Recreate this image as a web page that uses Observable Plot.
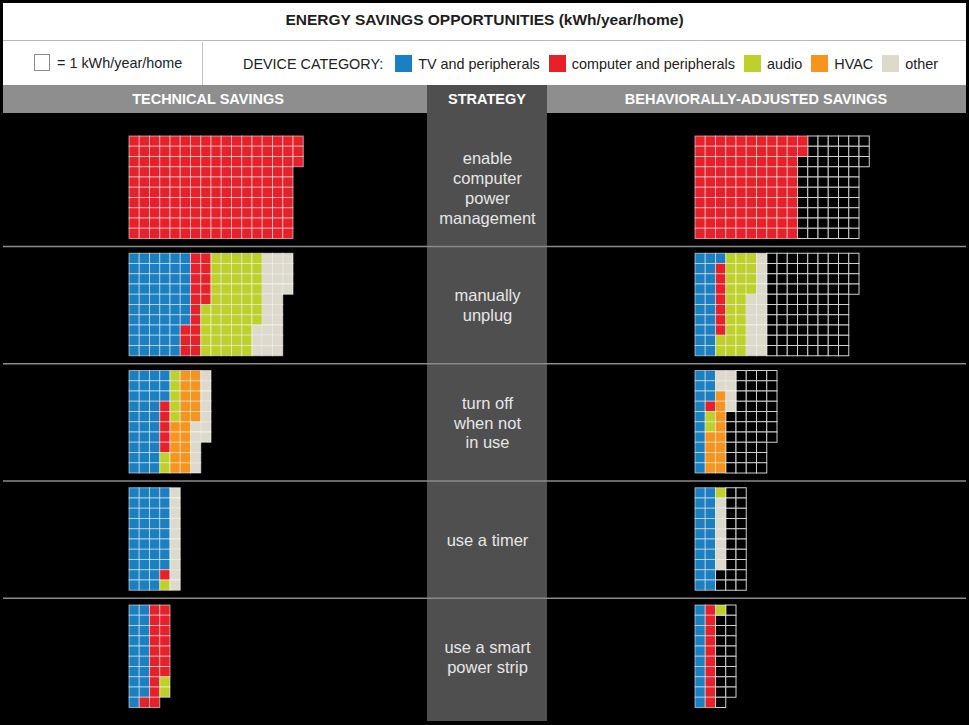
<!DOCTYPE html>
<html>
<head>
<meta charset="utf-8">
<script src="https://cdn.jsdelivr.net/npm/d3@7"></script>
<script src="https://cdn.jsdelivr.net/npm/@observablehq/plot@0.6"></script>
<style>
  html, body { margin: 0; padding: 0; background: #000; }
  #frame { position: relative; width: 969px; height: 725px; background: #000; overflow: hidden;
           font-family: "Liberation Sans", Arial, Helvetica, sans-serif; }
  #head { position: absolute; left: 3px; top: 3px; width: 963px; height: 82px; background: #fff; }
  #title { position: absolute; left: 0; top: 0; width: 100%; height: 38px; line-height: 34px; text-align: center;
           font-weight: bold; font-size: 15.5px; color: #1e1e1e; border-bottom: 1.5px solid #b8b8b8; box-sizing: border-box; }
  #unit { position: absolute; left: 0; top: 39px; width: 199px; height: 43px; border-right: 1.5px solid #c4c4c4; }
  #unitbox { position: absolute; left: 31px; top: 12px; width: 14px; height: 15px; border: 1.5px solid #8c8c8c; background: #fff; }
  #unittext { position: absolute; left: 54px; top: 0; line-height: 43px; font-size: 14.4px; color: #222; white-space: nowrap; }
  #legend { position: absolute; left: 240px; top: 39px; height: 43px; display: flex; align-items: center;
            font-size: 14.4px; color: #222; white-space: nowrap; }
  #legend .lab { margin-right: 8px; }
  #legend .sw { width: 17px; height: 17px; margin-right: 6px; margin-left: 4px; }
  #legend .item { display: flex; align-items: center; margin-right: 5px; }
  #band { position: absolute; left: 3px; top: 85px; width: 963px; height: 28px; background: #8e8e8e; }
  .bandtext { position: absolute; top: 85px; height: 28px; line-height: 28px; color: #fff; font-weight: bold;
              font-size: 14.5px; white-space: nowrap; transform: translateX(-50%); }
  #strategyband { position: absolute; left: 427px; top: 85px; width: 120px; height: 636px; background: #4f4f4f; }
  #chart { position: absolute; left: 0; top: 113px; }
</style>
</head>
<body>
<div id="frame">
  <div id="head">
    <div id="title">ENERGY SAVINGS OPPORTUNITIES (kWh/year/home)</div>
    <div id="unit"><div id="unitbox"></div><div id="unittext">= 1 kWh/year/home</div></div>
    <div id="legend"><span class="lab">DEVICE CATEGORY:</span></div>
  </div>
  <div id="band"></div>
  <div id="strategyband"></div>
  <div class="bandtext" style="left:208px">TECHNICAL SAVINGS</div>
  <div class="bandtext" style="left:487px">STRATEGY</div>
  <div class="bandtext" style="left:756px">BEHAVIORALLY-ADJUSTED SAVINGS</div>
  <div id="chart"></div>
</div>
<script>
// ---------------- data ----------------
const categories = ["TV and peripherals", "computer and peripherals", "audio", "HVAC", "other"];
const categoryColors = ["#1b80c2", "#e8202a", "#bdd12a", "#f7941e", "#dddacc"];

const strategies = [
  "enable\ncomputer\npower\nmanagement",
  "manually\nunplug",
  "turn off\nwhen not\nin use",
  "use a timer",
  "use a smart\npower strip"
];

// runs of [category, kWh/year/home] in waffle fill order (column by column, top to bottom)
const techPowerManagement = [["computer and peripherals", 163]];
const techUnplug          = [["TV and peripherals", 57], ["computer and peripherals", 18], ["audio", 52], ["other", 27]];
const techTurnOff         = [["TV and peripherals", 33], ["computer and peripherals", 5], ["audio", 7], ["HVAC", 20], ["other", 12]];
const techTimer           = [["TV and peripherals", 38], ["computer and peripherals", 1], ["audio", 1], ["other", 10]];
const techPowerStrip      = [["TV and peripherals", 19], ["computer and peripherals", 18], ["audio", 2]];

const behPowerManagement  = [["computer and peripherals", 102]];
const behUnplug           = [["TV and peripherals", 21], ["computer and peripherals", 7], ["audio", 26], ["other", 16]];
const behTurnOff          = [["TV and peripherals", 13], ["computer and peripherals", 1], ["audio", 2], ["HVAC", 4], ["other", 2], ["HVAC", 8], ["other", 4]];
const behTimer            = [["TV and peripherals", 20], ["audio", 1], ["other", 7]];
const behPowerStrip       = [["TV and peripherals", 10], ["computer and peripherals", 10], ["audio", 1]];

const technical  = [techPowerManagement, techUnplug, techTurnOff, techTimer, techPowerStrip];
const behavioral = [behPowerManagement, behUnplug, behTurnOff, behTimer, behPowerStrip];

// ---------------- legend ----------------
const legend = document.getElementById("legend");
categories.forEach((c, i) => {
  const item = document.createElement("span");
  item.className = "item";
  const sw = document.createElement("span");
  sw.className = "sw";
  sw.style.background = categoryColors[i];
  const t = document.createElement("span");
  t.textContent = c;
  item.appendChild(sw); item.appendChild(t);
  legend.appendChild(item);
});

// ---------------- layout (cell units) ----------------
const CELL = 10.25;
const W = 969, H = 612;
const ROWS = 10;
const TECH_X = 129 / CELL, BEH_X = 695 / CELL, STRAT_X = 487 / CELL;
const PANEL_Y0 = 23 / CELL, PANEL_STEP = 117.25 / CELL;
const panelTop = k => PANEL_Y0 + k * PANEL_STEP;

const filled = [], empty = [];
function place(runs, total, x0, y0) {
  let i = 0;
  for (const [cat, n] of runs) {
    for (let k = 0; k < n; k++, i++) filled.push({cat, x: x0 + Math.floor(i / ROWS), y: y0 + (i % ROWS)});
  }
  for (; i < total; i++) empty.push({x: x0 + Math.floor(i / ROWS), y: y0 + (i % ROWS)});
}
strategies.forEach((s, k) => {
  const total = d3.sum(technical[k], d => d[1]);
  place(technical[k], total, TECH_X, panelTop(k));
  place(behavioral[k], total, BEH_X, panelTop(k));
});
const separators = d3.range(strategies.length - 1).map(k => (panelTop(k) + ROWS + panelTop(k + 1)) / 2);

const chart = Plot.plot({
  width: W, height: H,
  marginTop: 0, marginRight: 0, marginBottom: 0, marginLeft: 0,
  x: {domain: [0, W / CELL], range: [0, W], axis: null},
  y: {domain: [0, H / CELL], range: [0, H], axis: null},
  color: {domain: categories, range: categoryColors},
  style: {background: "transparent", fontFamily: "Liberation Sans, Arial, sans-serif"},
  marks: [
    Plot.ruleY(separators, {y: d => d, x1: () => 3 / CELL, x2: () => 966 / CELL, stroke: "#8a8a8a", strokeWidth: 1.5}),
    Plot.rect(empty, {x1: d => d.x, x2: d => d.x + 1, y1: d => d.y, y2: d => d.y + 1,
                      fill: "#000", stroke: "#cfcfcf", strokeWidth: 1}),
    Plot.rect(filled, {x1: d => d.x, x2: d => d.x + 1, y1: d => d.y, y2: d => d.y + 1,
                       fill: "cat", stroke: "#ffffff", strokeOpacity: 0.55, strokeWidth: 1}),
    Plot.text(strategies, {x: () => STRAT_X, y: (d, i) => panelTop(i) + ROWS / 2, text: d => d,
                           fill: "#e6e6e6", fontSize: 16.5, lineHeight: 1.2, textAnchor: "middle"})
  ]
});
document.getElementById("chart").appendChild(chart);
</script>
</body>
</html>
